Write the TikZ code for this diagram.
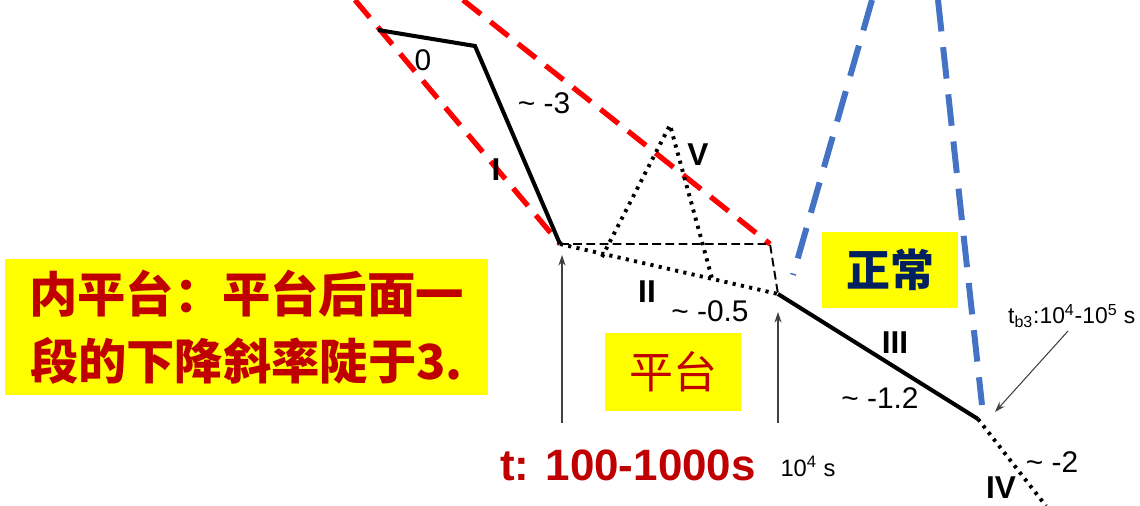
\documentclass[tikz,border=0pt]{standalone}
\usepackage{fontspec}
\setmainfont{Liberation Sans}
\newfontfamily\cjk{Noto Sans CJK SC}
\usepackage{xcolor}
\definecolor{dred}{RGB}{192,0,0}
\definecolor{dblue}{RGB}{0,32,96}
\definecolor{lblue}{RGB}{68,114,196}
\definecolor{ybox}{RGB}{255,255,0}
\usetikzlibrary{arrows.meta}
\tikzset{
  seg/.style={line width=2.3pt},
  dotseg/.style={line width=2.2pt, dash pattern=on 1.8pt off 3pt},
  redline/.style={red, line width=3pt, dash pattern=on 13pt off 7pt},
  blueline/.style={lblue, line width=3.4pt, dash pattern=on 18pt off 9pt},
  tickarrow/.style={black!75, line width=0.6pt, -{Stealth[length=6pt,width=4pt]}},
  slope/.style={font=\fontsize{17}{17}\selectfont},
  phase/.style={font=\fontsize{18}{18}\selectfont\bfseries},
  ylab/.style={fill=ybox, inner sep=0pt, align=center}
}
\begin{document}
\begin{tikzpicture}[x=0.02cm, y=-0.02cm]
  \useasboundingbox (0,0) rectangle (1140,506);
  % break points of the light curve
  \coordinate (p0) at (378,30);  \coordinate (p1) at (475,46);
  \coordinate (p2) at (560,244); \coordinate (p3) at (778,294);
  \coordinate (p4) at (978,419); \coordinate (p5) at (1046,506);
  \coordinate (v1) at (602,257); \coordinate (v2) at (670,125); \coordinate (v3) at (713,282);
  \coordinate (q1) at (770,244);
  % guide lines
  \draw[redline] (355,0) -- (p2);
  \draw[redline] (463,0) -- (q1);
  \draw[blueline] (872,0) -- (793,275);
  \draw[blueline] (938,0) -- (982,405);
  % segments
  \draw[seg] (p0) -- (p1) -- (p2);
  \draw[dotseg] (p2) -- (p3);
  \draw[seg] (p3) -- (p4);
  \draw[dotseg] (p4) -- (p5);
  \draw[dotseg] (v1) -- (v2) -- (v3);
  \draw[line width=1.1pt, dash pattern=on 5pt off 2.5pt] (p2) -- (q1) -- (p3);
  % labels
  \node[slope] (s0) at (423,60) {0};
  \node[slope] (s1) at (544,103) {\textasciitilde\ -3};
  \node[phase] (ph1) at (496,170) {I};
  \node[phase] (ph5) at (698,155) {V};
  \node[phase] (ph2) at (647,292) {II};
  \node[slope] (s2) at (710,311) {\textasciitilde\ -0.5};
  \node[phase] (ph3) at (895,343) {III};
  \node[slope] (s3) at (880,398) {\textasciitilde\ -1.2};
  \node[slope] (s4) at (1052,462) {\textasciitilde\ -2};
  \node[phase] (ph4) at (1001,488) {IV};
  \node[anchor=west, font=\fontsize{13}{13}\selectfont] (tb) at (1002,316) {t\textsubscript{b3}:10\textsuperscript{4}-10\textsuperscript{5} s};
  \node[font=\fontsize{13.5}{13.5}\selectfont] (t4) at (808,466) {10\textsuperscript{4} s};
  \node[dred, font=\fontsize{25}{25}\selectfont\bfseries] (tt) at (628,465) {t: 100-1000s};
  % boxes
  \node[ylab, minimum width=483*0.02cm, minimum height=136*0.02cm, text=dred,
        font=\cjk\bfseries\fontsize{27.5}{38}\selectfont] (inner) at (246.5,327)
        {内平台：平台后面一\\段的下降斜率陡于3.};
  \node[ylab, minimum width=136*0.02cm, minimum height=78*0.02cm, text=dred,
        font=\cjk\fontsize{25}{25}\selectfont] (plat) at (673,372) {平台};
  \node[ylab, minimum width=136*0.02cm, minimum height=76*0.02cm, text=dblue,
        font=\cjk\bfseries\fontsize{25}{25}\selectfont] (norm) at (890,270) {正常};
  % arrows
  \coordinate (a1) at (562,423); \coordinate (a2) at (778,423);
  \coordinate (b1) at (1068,331); \coordinate (b2) at (995,412);
  \draw[tickarrow] (a1) -- (562,255);
  \draw[tickarrow] (a2) -- (778,312);
  \draw[tickarrow] (b1) -- (b2);
\end{tikzpicture}
\end{document}
